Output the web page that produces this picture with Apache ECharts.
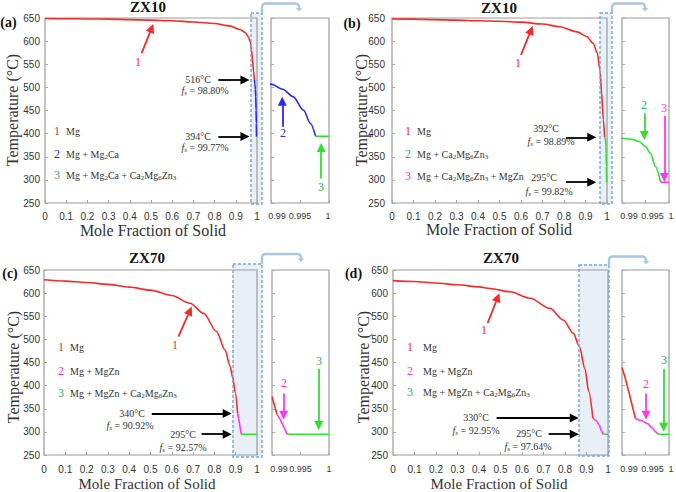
<!DOCTYPE html>
<html>
<head>
<meta charset="utf-8">
<script src="https://cdn.jsdelivr.net/npm/echarts@6.0.0/dist/echarts.min.js"></script>
<style>
html, body { margin: 0; padding: 0; background: #fff; }
#chart { width: 676px; height: 492px; }
</style>
</head>
<body>
<div id="chart"></div>
<script>
// ---- data (mole fraction of solid, temperature in °C) ----
// (a) ZX10
const aMgX   = [0, 0.1, 0.2, 0.3, 0.4, 0.5, 0.6, 0.7, 0.8, 0.87, 0.92, 0.945, 0.96, 0.968, 0.974, 0.979, 0.984, 0.988];
const aMgT   = [649, 648.5, 648, 647.5, 646.5, 645.5, 644, 641.5, 638, 633, 625, 618, 609, 598, 580, 558, 534, 516];
const aCaX   = [0.988, 0.99, 0.992, 0.9938, 0.9956, 0.9968, 0.9977];
const aCaT   = [516, 507, 496, 480, 451, 422, 394];
const aTerX  = [0.9977, 1];
const aTerT  = [394, 394];
// (b) ZX10
const bMgX   = [0, 0.1, 0.2, 0.3, 0.4, 0.5, 0.6, 0.7, 0.78, 0.86, 0.906, 0.936, 0.955, 0.967, 0.975, 0.983, 0.9889];
const bMgT   = [648, 647.5, 646.5, 645.5, 644, 643, 641, 637, 631, 620, 610, 595, 574, 538, 487, 430, 392];
const bCaX   = [0.9889, 0.99, 0.9921, 0.9936, 0.995, 0.9961, 0.9971, 0.9982];
const bCaT   = [392, 390, 388, 383, 372, 357, 329, 295];
const bTerX  = [0.9982, 1];
const bTerT  = [295, 295];
// (c) ZX70
const cMgX   = [0, 0.1, 0.2, 0.3, 0.4, 0.5, 0.6, 0.685, 0.75, 0.81, 0.85, 0.873, 0.886, 0.897, 0.9092];
const cMgT   = [629, 626, 623, 619, 613, 606.5, 595, 578, 556, 517, 477, 443, 418, 387, 340];
const cZnX   = [0.9092, 0.918, 0.9257];
const cZnT   = [340, 318, 295];
const cTerX  = [0.9257, 1];
const cTerT  = [295, 295];
// (c) zoomed panel
const cInMgX  = [0.99, 0.99088];
const cInMgT  = [376, 338];
const cInZnX  = [0.99088, 0.99147, 0.99206, 0.99265];
const cInZnT  = [338, 326, 311, 295];
const cInTerX = [0.99265, 1];
const cInTerT = [295, 295];
// (d) ZX70
const dMgX   = [0, 0.1, 0.2, 0.3, 0.4, 0.451, 0.544, 0.637, 0.73, 0.792, 0.839, 0.867, 0.893, 0.91, 0.9295];
const dMgT   = [627, 625, 622, 618, 613.5, 610, 603, 589, 567, 542, 513, 484, 436, 388, 330];
const dZnX   = [0.9295, 0.946, 0.959, 0.9695, 0.9764];
const dZnT   = [330, 324, 315, 302.5, 295];
const dTerX  = [0.9764, 1];
const dTerT  = [295, 295];
// (d) zoomed panel
const dInMgX  = [0.99, 0.9907, 0.99143, 0.99214, 0.99286];
const dInMgT  = [439, 416, 387, 358, 329];
const dInZnX  = [0.99286, 0.99429, 0.99536, 0.99643, 0.99714, 0.99771];
const dInZnT  = [329, 324, 318, 309, 300, 295];
const dInTerX = [0.99771, 1];
const dInTerT = [295, 295];

// labels
const alloys = ['ZX10', 'ZX10', 'ZX70', 'ZX70'];
const panelTags = ['(a)', '(b)', '(c)', '(d)'];
const phasesA = ['Mg', 'Mg + Mg{d|2}Ca', 'Mg + Mg{d|2}Ca + Ca{d|2}Mg{d|6}Zn{d|3}'];
const phasesB = ['Mg', 'Mg + Ca{d|2}Mg{d|6}Zn{d|3}', 'Mg + Ca{d|2}Mg{d|6}Zn{d|3} + MgZn'];
const phasesCD = ['Mg', 'Mg + MgZn', 'Mg + MgZn + Ca{d|2}Mg{d|6}Zn{d|3}'];
const tempTicks = [250, 650, 50];
const mainTicks = [0, 1, 0.1];
const zoomTicks = [0.99, 0.995, 1];
const zoomLabels = ['0.99', '0.995', '1'];

const RED = '#f22b2b', BLUE = '#2828f0', GREEN = '#2fe02f', PINK = '#ff38f0';
const GREEN_T = '#22b25a', PINK_T = '#ff30d0';
const SERIF = "'Liberation Serif','DejaVu Serif',serif";
const SANS = "'Liberation Sans',Arial,sans-serif";

const zip = (xs, ys) => xs.map((x, i) => [x, ys[i]]);

// grid boxes: [left, top, width, height]
const boxes = [
  [45, 18, 212, 185], [271, 18, 58, 185],
  [392, 18, 215, 185], [622, 18, 47, 185],
  [44, 270, 213, 185], [272, 270, 57, 185],
  [393, 270, 215, 185], [622, 270, 47, 185]
];
const xMargins = [8, 8, 8, 8, 9, 9, 9, 9];
const yMargins = [5, 0, 7, 0, 4, 0, 5, 0];
// the zoomed panels print their tick labels a little off their ticks
const zoomNudge = [[6, 0, -1], [7, 7, 2], [7, 0, 0], [7, 7, 2]];

const grids = boxes.map(b => ({
  left: b[0], top: b[1], width: b[2], height: b[3],
  show: true, borderColor: '#9c9c9c', borderWidth: 1.2, backgroundColor: 'transparent'
}));

const xAxes = boxes.map((b, i) => {
  const tick = { show: true, inside: true, length: 3, lineStyle: { color: '#aaa' } };
  const base = {
    type: 'value', gridIndex: i,
    axisLine: { show: false }, splitLine: { show: false }, axisTick: tick
  };
  if (i % 2 === 0) {
    return Object.assign(base, {
      min: mainTicks[0], max: mainTicks[1], interval: mainTicks[2],
      axisLabel: { fontSize: 10, fontFamily: SANS, color: '#333', margin: xMargins[i],
                   showMinLabel: true, showMaxLabel: true }
    });
  }
  // zoomed panels: ticks from the axis, labels placed below via convertToPixel
  return Object.assign(base, {
    min: zoomTicks[0], max: zoomTicks[2],
    axisTick: Object.assign({ customValues: zoomTicks }, tick),
    axisLabel: { show: false }
  });
});

const yAxes = boxes.map((b, i) => ({
  type: 'value', gridIndex: i, min: tempTicks[0], max: tempTicks[1], interval: tempTicks[2],
  axisLine: { show: false },
  axisTick: { show: true, inside: true, length: 3, lineStyle: { color: '#aaa' } },
  splitLine: { show: false },
  axisLabel: { show: i % 2 === 0, fontSize: 10, fontFamily: SANS, color: '#333', margin: yMargins[i],
               showMinLabel: true, showMaxLabel: true }
}));

function line(g, xs, ys, color, smooth) {
  return {
    type: 'line', xAxisIndex: g, yAxisIndex: g, data: zip(xs, ys),
    symbol: 'none', silent: true, clip: true,
    smooth: smooth || false, smoothMonotone: 'x',
    lineStyle: { color, width: 1.6 }, itemStyle: { color }
  };
}

function arrows(g, list) {
  return {
    type: 'line', xAxisIndex: g, yAxisIndex: g, data: [], silent: true,
    markLine: {
      silent: true, symbol: ['none', 'triangle'], symbolSize: 9,
      label: { show: false }, emphasis: { disabled: true },
      data: list.map(a => [
        { coord: a[0], lineStyle: { color: a[2], width: 1.8, type: 'solid' }, itemStyle: { color: a[2] } },
        { coord: a[1] }
      ])
    }
  };
}

const series = [
  line(0, aMgX, aMgT, RED, 0.3), line(0, aCaX, aCaT, BLUE, 0.3), line(0, aTerX, aTerT, GREEN),
  line(1, aMgX, aMgT, RED, 0.3), line(1, aCaX, aCaT, BLUE, 0.3), line(1, aTerX, aTerT, GREEN),
  line(2, bMgX, bMgT, RED, 0.3), line(2, bCaX, bCaT, GREEN, 0.3), line(2, bTerX, bTerT, PINK),
  line(3, bMgX, bMgT, RED, 0.3), line(3, bCaX, bCaT, GREEN, 0.3), line(3, bTerX, bTerT, PINK),
  line(4, cMgX, cMgT, RED, 0.3), line(4, cZnX, cZnT, PINK), line(4, cTerX, cTerT, GREEN),
  line(5, cInMgX, cInMgT, RED), line(5, cInZnX, cInZnT, PINK), line(5, cInTerX, cInTerT, GREEN),
  line(6, dMgX, dMgT, RED, 0.3), line(6, dZnX, dZnT, PINK, 0.3), line(6, dTerX, dTerT, GREEN),
  line(7, dInMgX, dInMgT, RED), line(7, dInZnX, dInZnT, PINK, 0.3), line(7, dInTerX, dInTerT, GREEN),
  // annotation arrows
  arrows(0, [[[0.456, 574], [0.503, 628], RED], [[0.8175, 516], [0.943, 516], '#000'], [[0.8175, 394], [0.943, 394], '#000']]),
  arrows(1, [[[0.99194, 415], [0.99194, 470], BLUE], [[0.99865, 303], [0.99865, 370], GREEN]]),
  arrows(2, [[[0.6, 570], [0.6465, 623.6], RED], [[0.809, 392], [0.929, 392], '#000'], [[0.809, 295], [0.929, 295], '#000']]),
  arrows(3, [[[0.99474, 444], [0.99474, 396], GREEN], [[0.999, 438], [0.999, 305], PINK]]),
  arrows(4, [[[0.631, 506], [0.685, 562], RED], [[0.506, 340], [0.86, 340], '#000'], [[0.74, 295], [0.86, 295], '#000']]),
  arrows(5, [[[0.99205, 383], [0.99205, 336], PINK], [[0.99819, 436], [0.99819, 314], GREEN]]),
  arrows(6, [[[0.44, 535], [0.487, 590.5], RED], [[0.482, 330], [0.843, 330], '#000'], [[0.724, 295], [0.843, 295], '#000']]),
  arrows(7, [[[0.99511, 383], [0.99511, 336], PINK], [[0.99887, 436], [0.99887, 310], GREEN]])
];

// ---- text and decorations ----
const RICH = {
  i: { fontStyle: 'italic', fontSize: 10, fontFamily: SERIF, fill: '#333' },
  s: { fontStyle: 'italic', fontSize: 7, fontFamily: SERIF, fill: '#333', padding: [5, 0, 0, 0] },
  d: { fontSize: 7, fontFamily: SERIF, fill: '#333', padding: [5, 0, 0, 0] }
};
function txt(x, y, text, size, color, o) {
  o = o || {};
  return {
    type: 'text', x, y, z: 100, silent: true, rotation: o.rot || 0,
    style: {
      text, fill: color, fontSize: size, fontFamily: o.family || SERIF,
      fontWeight: o.bold ? 'bold' : 'normal',
      textAlign: o.align || 'center', align: o.align || 'center',
      textVerticalAlign: 'middle', verticalAlign: 'middle', rich: RICH
    }
  };
}
const fs = p => '{i|f}{s|s} = ' + p;

const graphics = [];
// per-panel anchor positions
const heads = [[8.5, 22, 148, 7], [352, 23, 499, 8], [10, 273, 147, 258], [353.5, 273, 501, 258]];
const axisTitles = [[12, 110, 153, 230, 16], [361, 110, 499, 229, 16], [13, 367, 147, 484, 15], [363, 367, 499, 484, 15]];
heads.forEach((h, i) => {
  graphics.push(txt(h[0], h[1], panelTags[i], 14, '#111', { bold: true }));
  graphics.push(txt(h[2], h[3], alloys[i], 15, '#111', { bold: true }));
});
axisTitles.forEach(t => {
  graphics.push(txt(t[0], t[1], 'Temperature (°C)', 16, '#333', { rot: Math.PI / 2 }));
  graphics.push(txt(t[2], t[3], 'Mole Fraction of Solid', t[4], '#333'));
});

// phase key
const keys = [
  { dx: 57, tx: 66, ys: [131, 154, 175], names: phasesA, cols: [RED, BLUE, GREEN_T] },
  { dx: 408, tx: 417, ys: [131, 154, 176], names: phasesB, cols: [RED, GREEN_T, PINK_T] },
  { dx: 61, tx: 70, ys: [347, 371, 393], names: phasesCD, cols: [RED, PINK_T, GREEN_T] },
  { dx: 410, tx: 423, ys: [347, 371, 392], names: phasesCD, cols: [RED, PINK_T, GREEN_T] }
];
keys.forEach(k => {
  k.ys.forEach((y, j) => {
    graphics.push(txt(k.dx, y, String(j + 1), 12, k.cols[j]));
    graphics.push(txt(k.tx, y, k.names[j], 10, '#333', { align: 'left' }));
  });
});

// annotations
[
  [198, 79, '516°C'], [205, 90, fs('98.80%')], [198, 136, '394°C'], [205, 147, fs('99.77%')],
  [546, 128, '392°C'], [551, 141, fs('98.89%')], [544, 177, '295°C'], [549, 191, fs('99.82%')],
  [132, 413, '340°C'], [130, 425, fs('90.92%')], [183, 434, '295°C'], [183, 447, fs('92.57%')],
  [476, 417, '330°C'], [476, 430, fs('92.95%')], [529, 433, '295°C'], [528, 446, fs('97.64%')]
].forEach(a => graphics.push(txt(a[0], a[1], a[2], 10, '#333')));

[
  [138, 62, '1', RED], [283, 133, '2', BLUE], [321, 187, '3', GREEN_T],
  [518, 63, '1', RED], [644, 105, '2', GREEN_T], [664, 108, '3', PINK_T],
  [175, 345, '1', RED], [284, 383, '2', PINK_T], [319, 361, '3', GREEN_T],
  [484, 330, '1', RED], [646, 384, '2', PINK_T], [664, 360, '3', GREEN_T]
].forEach(a => graphics.push(txt(a[0], a[1], a[2], 12, a[3])));

// zoom windows and connectors
const windows = [
  [251, 13, 262, 204, 3.5, 299],
  [600, 13, 612, 204, 3.5, 645],
  [233, 264, 262, 457, 254, 301],
  [579, 265, 609, 456, 256.5, 646]
];
windows.forEach(w => {
  const [x0, y0, x1, y1, yc, xe] = w;
  graphics.push({ type: 'rect', z: -1, silent: true, shape: { x: x0, y: y0, width: x1 - x0, height: y1 - y0 },
    style: { fill: 'rgba(205,220,235,0.45)', stroke: null } });
  graphics.push({ type: 'rect', z: 50, silent: true, shape: { x: x0, y: y0, width: x1 - x0, height: y1 - y0 },
    style: { fill: null, stroke: '#74a6d6', lineWidth: 1.4, lineDash: [3, 2] } });
  graphics.push({ type: 'polyline', z: 50, silent: true,
    shape: { points: [[x1, y0], [x1, yc + 3], [x1 + 1, yc + 1], [x1 + 3, yc], [xe - 3, yc], [xe - 1, yc + 1], [xe, yc + 3], [xe, yc + 5]] },
    style: { fill: null, stroke: '#a9c5e3', lineWidth: 2.4 } });
  graphics.push({ type: 'polygon', z: 50, silent: true,
    shape: { points: [[xe - 3, yc + 4.5], [xe + 3, yc + 4.5], [xe, yc + 8]] },
    style: { fill: '#a9c5e3' } });
});

const chart = echarts.init(document.getElementById('chart'), null, { renderer: 'svg' });
chart.setOption({
  animation: false,
  backgroundColor: '#fff',
  grid: grids,
  xAxis: xAxes,
  yAxis: yAxes,
  series: series,
  graphic: { elements: graphics }
});

// tick labels of the zoomed panels, positioned through each axis' own scale
[1, 3, 5, 7].forEach((gi, p) => {
  const bottom = boxes[gi][1] + boxes[gi][3];
  zoomTicks.forEach((v, k) => {
    const px = chart.convertToPixel({ xAxisIndex: gi }, v);
    graphics.push(txt(px + zoomNudge[p][k], bottom + xMargins[gi] + 5, zoomLabels[k], 9, '#333', { family: SANS }));
  });
});
chart.setOption({ graphic: { elements: graphics } });
</script>
</body>
</html>
